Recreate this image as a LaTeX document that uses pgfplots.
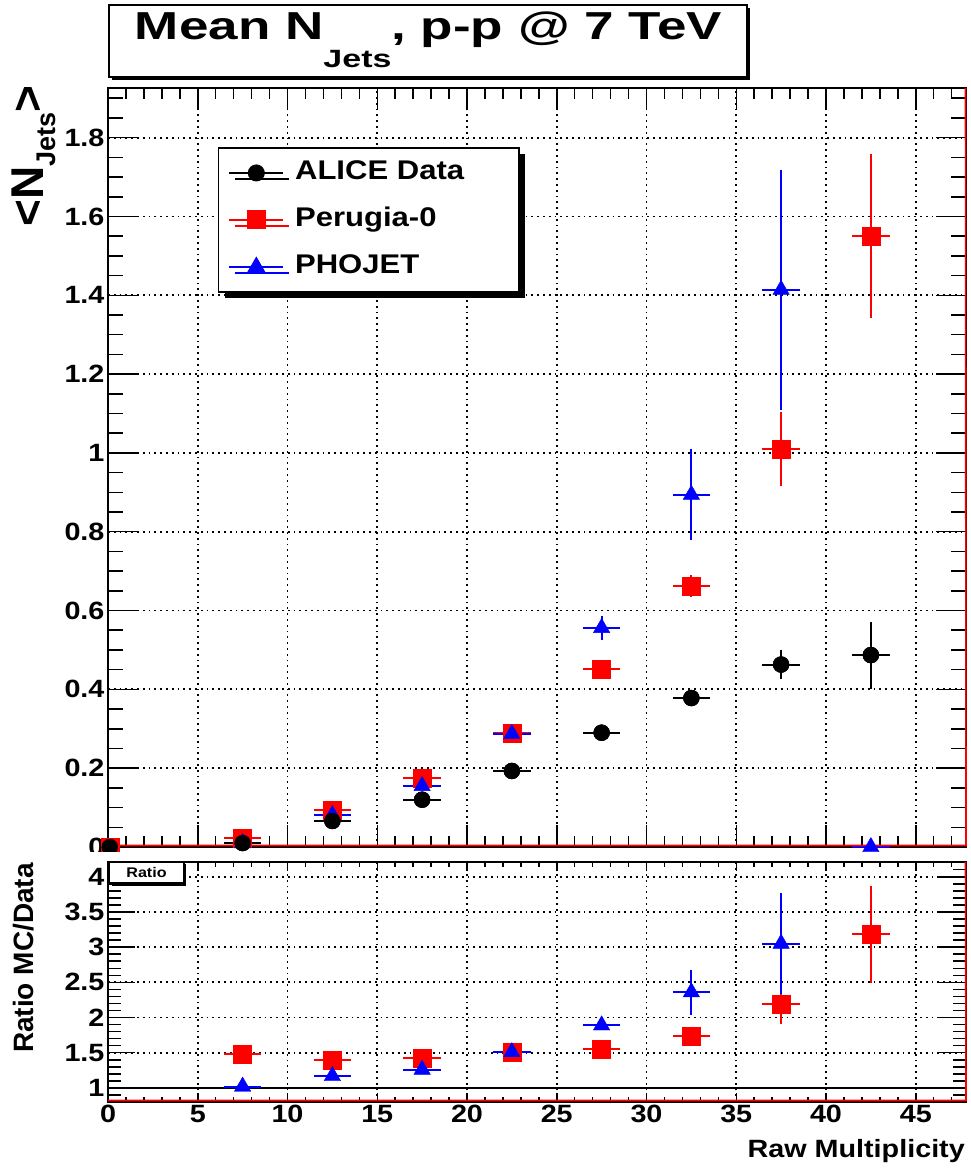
\documentclass[border=0pt]{standalone}
\usepackage{fontspec}
\setmainfont{Liberation Sans}[FakeStretch=1.15]
\newfontfamily\plainsans{Liberation Sans}
\usepackage{graphicx}
\usepackage{pgfplots}
\usepackage{pgfplotstable}
\pgfplotsset{compat=1.18}
\usetikzlibrary{shadows}

% x  y  x-error  y-error
\pgfplotstableread{
x    y     ex   ey
0.1  0.000 0.1  0
7.5  0.010 1.05 0.003
12.5 0.066 1.05 0.005
17.5 0.120 1.05 0.008
22.5 0.193 1.05 0.010
27.5 0.290 1.05 0.012
32.5 0.378 1.05 0.020
37.5 0.463 1.05 0.037
42.5 0.487 1.05 0.085
}\alicedata

\pgfplotstableread{
x    y     ex   ey
0.1  0.000 0.1  0
7.5  0.022 1.05 0.003
12.5 0.094 1.05 0.005
17.5 0.175 1.05 0.008
22.5 0.289 1.05 0.010
27.5 0.452 1.05 0.015
32.5 0.662 1.05 0.028
37.5 1.010 1.05 0.094
42.5 1.550 1.05 0.208
}\perugia

\pgfplotstableread{
x    y     ex   ey
7.5  0.010 1.05 0.003
12.5 0.081 1.05 0.005
17.5 0.155 1.05 0.008
22.5 0.287 1.05 0.012
27.5 0.556 1.05 0.030
32.5 0.894 1.05 0.115
37.5 1.414 1.05 0.305
42.5 0.000 1.05 0
}\phojet

% ratios MC / data
\pgfplotstableread{
x    y    ex   ey
7.5  1.48 1.05 0.05
12.5 1.40 1.05 0.04
17.5 1.42 1.05 0.04
22.5 1.51 1.05 0.04
27.5 1.55 1.05 0.05
32.5 1.74 1.05 0.06
37.5 2.19 1.05 0.28
42.5 3.18 1.05 0.69
}\ratioperugia

\pgfplotstableread{
x    y    ex   ey
7.5  1.02 1.05 0.04
12.5 1.17 1.05 0.04
17.5 1.26 1.05 0.04
22.5 1.51 1.05 0.05
27.5 1.89 1.05 0.07
32.5 2.36 1.05 0.32
37.5 3.05 1.05 0.72
}\ratiophojet

\pgfplotsset{
  rootpad/.style={
    scale only axis, clip=false,
    axis line style={line width=2pt},
    every tick/.style={black, line width=1.5pt},
    grid=major,
    grid style={black, line width=1.8pt, dash pattern=on 1.8pt off 4pt},
    ticklabel style={font=\bfseries\fontsize{25}{25}\selectfont},
    /pgf/number format/assume math mode=true,
  },
  ebars/.style={
    only marks,
    /pgfplots/error bars/x dir=both, /pgfplots/error bars/x explicit,
    /pgfplots/error bars/y dir=both, /pgfplots/error bars/y explicit,
    /pgfplots/error bars/error mark=none,
    /pgfplots/error bars/error bar style={line width=2pt},
  },
}

\begin{document}
\begin{tikzpicture}[x=1pt,y=1pt]
\path[use as bounding box] (0,0) rectangle (971,1169);

% title box with shadow
\fill[black] (112,1089) rectangle (750,1161);
\draw[fill=white,line width=1.5pt] (109,1092) rectangle (747,1164);
\node[anchor=base,inner sep=0pt] at (428.5,1129)
  {\resizebox{587pt}{\height}{\bfseries\fontsize{39}{39}\selectfont Mean N\raisebox{-28pt}{\fontsize{25}{25}\selectfont Jets},\ p-p @ 7 TeV}};

% upper pad: mean number of jets
\begin{axis}[rootpad,
  at={(108pt,322pt)}, anchor=south west,
  width=858pt, height=759pt,
  xmin=0, xmax=47.8, ymin=0, ymax=1.926,
  xtick={0,5,...,45}, minor xtick={0,1,...,47},
  ytick={0,0.2,0.4,0.6,0.8,1,1.2,1.4,1.6,1.8},
  minor ytick={0.05,0.1,...,1.91},
  xticklabels={},
  xtick style={/pgfplots/major tick length=22pt,/pgfplots/minor tick length=11pt},
  ytick style={/pgfplots/major tick length=30pt,/pgfplots/minor tick length=15pt},
  legend cell align=left,
  legend style={at={(0.128,0.922)}, anchor=north west,
    draw=black, line width=1.5pt, fill=white,
    font=\bfseries\fontsize{27}{27}\selectfont,
    inner xsep=10pt, inner ysep=12pt, row sep=21pt, column sep=11pt,
    nodes={inner sep=0pt, text height=20pt, text depth=6pt},
    drop shadow={shadow xshift=6pt, shadow yshift=-6pt, fill=black, opacity=1}},
  legend image code/.code={
    \draw[#1,sharp plot,line width=1.5pt] (0pt,0pt) -- (54pt,0pt);
    \draw[#1,line width=1pt] plot coordinates {(27pt,0pt)};
  },
]
\addplot[black, mark=*, mark size=8pt, ebars] table[x=x,y=y,x error=ex,y error=ey] {\alicedata};
\addlegendentry{ALICE Data\hspace*{45pt}}
\addplot[red, mark=square*, mark size=9pt, ebars] table[x=x,y=y,x error=ex,y error=ey] {\perugia};
\addlegendentry{Perugia-0}
\addplot[blue, mark=triangle*, mark size=9.5pt, ebars] table[x=x,y=y,x error=ex,y error=ey] {\phojet};
\addlegendentry{PHOJET}
% data drawn again so that it sits above the simulations
\addplot[forget plot, black, mark=*, mark size=8pt, ebars] table[x=x,y=y,x error=ex,y error=ey] {\alicedata};
\draw[red, line width=1.6pt] (rel axis cs:0,0) ++(0pt,1.5pt) -- ([yshift=1.5pt]rel axis cs:1,0) -- ([xshift=-0.5pt]rel axis cs:1,1);
\end{axis}

% lower pad covers the bottom of the upper one
\fill[white] (0,0) rectangle (971,317);

% lower pad: ratio MC / data
\begin{axis}[rootpad,
  at={(108pt,67pt)}, anchor=south west,
  width=858pt, height=240pt,
  xmin=0, xmax=47.8, ymin=0.8, ymax=4.21,
  xtick={0,5,...,45}, minor xtick={0,1,...,47},
  ytick={1,1.5,2,2.5,3,3.5,4},
  minor ytick={0.8,0.9,...,4.21},
  xtick style={/pgfplots/major tick length=9pt,/pgfplots/minor tick length=5pt},
  ytick style={/pgfplots/major tick length=27pt,/pgfplots/minor tick length=13pt},
]
\addplot[black, line width=1.3pt, no marks] coordinates {(0,1) (47.8,1)};
\addplot[red, mark=square*, mark size=9pt, ebars] table[x=x,y=y,x error=ex,y error=ey] {\ratioperugia};
\addplot[blue, mark=triangle*, mark size=9.5pt, ebars] table[x=x,y=y,x error=ex,y error=ey] {\ratiophojet};
\draw[red, line width=1.6pt] (rel axis cs:0,0) ++(0pt,1.5pt) -- ([yshift=1.5pt]rel axis cs:1,0) -- ([xshift=-0.5pt]rel axis cs:1,1);
\end{axis}

% small pad label
\fill[black] (112,283) rectangle (186,305);
\draw[fill=white,line width=1.3pt] (109,286) rectangle (184,307);
\node[inner sep=0pt] at (146.5,296.5) {\bfseries\fontsize{14}{14}\selectfont Ratio};

% axis titles
\node[rotate=90, anchor=north east, inner sep=0pt] at (12,1084)
  {\plainsans\bfseries\fontsize{46}{46}\selectfont <N\raisebox{-12pt}{\fontsize{27}{27}\selectfont Jets}>};
\node[rotate=90, inner sep=0pt] at (24,211)
  {\plainsans\bfseries\fontsize{28}{28}\selectfont Ratio MC/Data};
\node[anchor=base east, inner sep=0pt] at (965,11)
  {\bfseries\fontsize{25}{25}\selectfont Raw Multiplicity};
\end{tikzpicture}
\end{document}
